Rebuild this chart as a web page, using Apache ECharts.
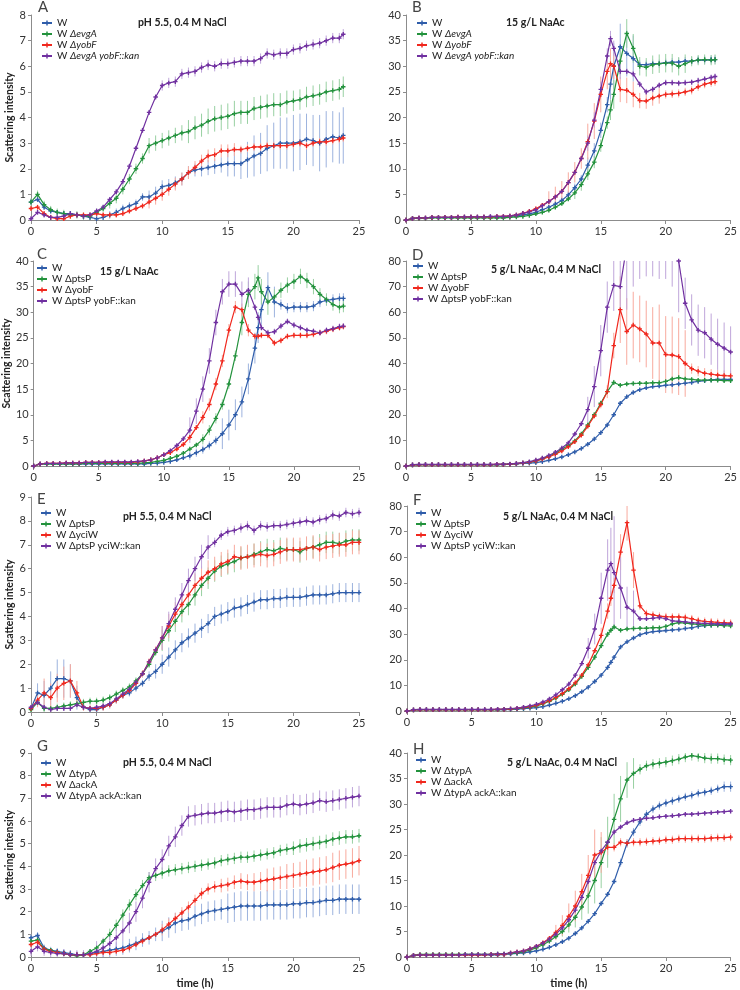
<!DOCTYPE html>
<html><head><meta charset="utf-8">
<script src="https://cdn.jsdelivr.net/npm/echarts@6/dist/echarts.min.js"></script>
<style>html,body{margin:0;padding:0;background:#fff}#c{width:740px;height:990px}</style>
</head><body><div id="c"></div>
<script>
// ---------- time axes (h) ----------
const T24 = [0,0.5,1,1.5,2,2.5,3,3.5,4,4.5,5,5.5,6,6.5,7,7.5,8,8.5,9,9.5,10,10.5,11,11.5,12,12.5,13,13.5,14,14.5,15,15.5,16,16.5,17,17.5,18,18.5,19,19.5,20,20.5,21,21.5,22,22.5,23,23.5,23.8];
const TB = [0,0.5,1,1.5,2,2.5,3,3.5,4,4.5,5,5.5,6,6.5,7,7.5,8,8.5,9,9.5,10,10.5,11,11.5,12,12.5,13,13.5,14,14.5,15,15.5,15.75,16,16.5,17,17.5,18,18.5,19,19.5,20,20.5,21,21.5,22,22.5,23,23.5,23.8];
const TC = [0,0.5,1,1.5,2,2.5,3,3.5,4,4.5,5,5.5,6,6.5,7,7.5,8,8.5,9,9.5,10,10.5,11,11.5,12,12.5,13,13.5,14,14.5,15,15.5,16,16.5,17,17.25,17.5,18,18.5,19,19.5,20,20.5,21,21.5,22,22.5,23,23.5,23.8];
const T25 = [0,0.5,1,1.5,2,2.5,3,3.5,4,4.5,5,5.5,6,6.5,7,7.5,8,8.5,9,9.5,10,10.5,11,11.5,12,12.5,13,13.5,14,14.5,15,15.5,16,16.5,17,17.5,18,18.5,19,19.5,20,20.5,21,21.5,22,22.5,23,23.5,24,24.5,25];
const TF = [0,0.5,1,1.5,2,2.5,3,3.5,4,4.5,5,5.5,6,6.5,7,7.5,8,8.5,9,9.5,10,10.5,11,11.5,12,12.5,13,13.5,14,14.5,15,15.5,15.75,16,16.5,17,17.5,18,18.5,19,19.5,20,20.5,21,21.5,22,22.5,23,23.5,24,24.5,25];

// ---------- labels ----------
const TITLES = ['pH 5.5, 0.4 M NaCl','15 g/L NaAc','15 g/L NaAc','5 g/L NaAc, 0.4 M NaCl','pH 5.5, 0.4 M NaCl','5 g/L NaAc, 0.4 M NaCl','pH 5.5, 0.4 M NaCl','5 g/L NaAc, 0.4 M NaCl'];
const LETTERS = ['A','B','C','D','E','F','G','H'];
const NAMES_EVGA = ['W','W ΔevgA','W ΔyobF','W ΔevgA yobF::kan'];
const NAMES_PTSY = ['W','W ΔptsP','W ΔyobF','W ΔptsP yobF::kan'];
const NAMES_YCIW = ['W','W ΔptsP','W ΔyciW','W ΔptsP yciW::kan'];
const NAMES_TYPA = ['W','W ΔtypA','W ΔackA','W ΔtypA ackA::kan'];
const X_TICKS = [0,5,10,15,20,25];

// ---------- Panel A ----------
const A_W = [0.7,0.8,0.5,0.35,0.3,0.25,0.25,0.2,0.15,0.1,0.05,0.1,0.2,0.3,0.45,0.55,0.65,0.9,0.9,1.05,1.3,1.35,1.45,1.6,1.85,1.95,2.0,2.05,2.1,2.15,2.2,2.2,2.2,2.35,2.5,2.6,2.8,2.9,3.0,3.0,3.0,3.05,3.15,3.1,3.0,3.15,3.25,3.2,3.3];
const A_W_err = [0.1,0.1,0.1,0.1,0.1,0.1,0.1,0.1,0.1,0.1,0.15,0.15,0.15,0.15,0.15,0.15,0.15,0.15,0.25,0.25,0.25,0.25,0.25,0.25,0.25,0.25,0.3,0.3,0.3,0.3,0.5,0.5,0.6,0.7,0.8,0.8,0.9,0.9,1.0,1.0,1.1,1.1,1.0,1.0,1.1,1.1,1.0,1.0,1.1];
const A_G = [0.7,1.0,0.6,0.4,0.3,0.25,0.2,0.2,0.15,0.15,0.3,0.45,0.65,0.85,1.2,1.6,2.0,2.4,2.9,3.0,3.1,3.2,3.3,3.4,3.45,3.6,3.7,3.85,3.95,4.0,4.05,4.15,4.2,4.2,4.35,4.4,4.45,4.5,4.5,4.6,4.65,4.7,4.8,4.85,4.9,5.0,5.05,5.1,5.2];
const A_G_err = [0.15,0.15,0.15,0.15,0.15,0.15,0.15,0.15,0.15,0.15,0.15,0.15,0.2,0.2,0.2,0.2,0.2,0.2,0.3,0.3,0.3,0.3,0.3,0.3,0.45,0.45,0.45,0.5,0.5,0.5,0.5,0.5,0.45,0.45,0.45,0.45,0.45,0.45,0.45,0.45,0.4,0.4,0.4,0.4,0.4,0.4,0.4,0.4,0.4];
const A_R = [0.45,0.5,0.25,0.1,0.05,0.05,0.15,0.2,0.2,0.2,0.25,0.2,0.2,0.2,0.25,0.35,0.45,0.55,0.7,0.85,1.0,1.2,1.4,1.6,1.85,2.05,2.3,2.5,2.55,2.7,2.7,2.75,2.75,2.8,2.85,2.85,2.9,2.9,2.9,2.9,2.95,3.0,2.9,3.0,3.05,3.05,3.1,3.15,3.2];
const A_R_err = [0.1,0.1,0.1,0.1,0.1,0.1,0.1,0.1,0.1,0.1,0.1,0.1,0.1,0.1,0.1,0.1,0.1,0.1,0.25,0.25,0.25,0.25,0.25,0.25,0.25,0.25,0.25,0.25,0.25,0.25,0.25,0.25,0.15,0.15,0.15,0.15,0.15,0.15,0.15,0.15,0.15,0.15,0.15,0.15,0.15,0.15,0.15,0.15,0.15];
const A_P = [0.05,0.3,0.2,0.1,0.1,0.15,0.25,0.2,0.15,0.2,0.35,0.5,0.8,1.1,1.5,2.1,2.8,3.5,4.2,4.8,5.25,5.35,5.4,5.7,5.75,5.8,5.95,6.05,6.0,6.1,6.1,6.15,6.2,6.2,6.2,6.3,6.5,6.45,6.5,6.5,6.65,6.7,6.8,6.85,6.9,7.0,7.1,7.1,7.25];
const A_P_err = [0.1,0.1,0.1,0.1,0.1,0.1,0.1,0.1,0.1,0.1,0.1,0.1,0.1,0.1,0.1,0.1,0.1,0.1,0.1,0.1,0.2,0.2,0.2,0.2,0.2,0.2,0.2,0.2,0.2,0.2,0.2,0.2,0.2,0.2,0.2,0.2,0.2,0.2,0.2,0.2,0.2,0.2,0.2,0.2,0.2,0.2,0.2,0.2,0.2];

// ---------- Panel B ----------
const B_W = [0,0.3,0.4,0.4,0.5,0.5,0.5,0.5,0.5,0.6,0.6,0.6,0.6,0.6,0.6,0.6,0.7,0.8,1.0,1.2,1.5,2.0,2.5,3.1,3.8,4.9,6.3,8.0,10.7,13.5,17.5,22.5,26.5,30.0,33.8,32.5,31.5,30.3,30.3,30.5,30.5,30.7,30.8,30.8,31.0,31.0,31.2,31.2,31.3,31.3];
const B_W_err = [0.3,0.3,0.3,0.3,0.3,0.3,0.3,0.3,0.3,0.3,0.3,0.3,0.3,0.3,0.3,0.3,0.3,0.3,0.3,0.3,0.3,0.3,0.3,0.3,0.8,0.8,0.8,0.8,1.5,1.5,1.5,1.5,3,4.5,4.5,4.5,4.5,0.8,0.8,0.8,0.8,0.8,0.8,0.8,0.8,0.8,0.8,0.8,0.8,0.8];
const B_G = [0,0.3,0.3,0.3,0.4,0.4,0.4,0.4,0.4,0.4,0.4,0.4,0.4,0.4,0.4,0.4,0.5,0.6,0.7,0.9,1.2,1.5,1.9,2.5,3.2,4.1,5.3,6.9,9.0,11.3,14.5,19.0,21.5,24.5,31.0,36.4,33.5,30.0,29.8,30.3,30.5,30.6,30.6,30.0,30.5,31.0,31.2,31.3,31.2,31.3];
const B_G_err = [0.3,0.3,0.3,0.3,0.3,0.3,0.3,0.3,0.3,0.3,0.3,0.3,0.3,0.3,0.3,0.3,0.3,0.3,0.3,0.3,0.3,0.3,0.3,0.3,0.3,0.3,1.2,1.2,1.2,1.2,1.2,1.2,2,2.8,2.8,2.8,2.8,1.8,1.8,1.8,1.8,1.8,1.8,1.8,1.8,1.0,1.0,1.0,1.0,1.0];
const B_R = [0,0.3,0.4,0.4,0.5,0.5,0.5,0.5,0.6,0.6,0.6,0.6,0.6,0.6,0.7,0.7,0.8,1.0,1.3,1.7,2.2,2.9,3.6,4.5,5.6,7.3,9.3,12.0,15.3,19.3,24.5,29.0,30.5,30.0,25.5,25.3,24.5,23.3,23.2,23.8,24.2,24.5,24.6,24.7,25.0,25.3,26.0,26.5,26.8,27.0];
const B_R_err = [0.4,0.4,0.4,0.4,0.4,0.4,0.4,0.4,0.4,0.4,0.4,0.4,0.4,0.4,0.4,0.4,0.4,0.4,0.4,0.4,0.4,0.4,2.0,2.0,2.0,2.0,2.0,2.0,3.5,3.5,3.5,3.5,3,2.5,2.5,2.5,2.5,1.5,1.5,1.5,1.5,0.8,0.8,0.8,0.8,0.8,0.8,0.8,0.8,0.8];
const B_P = [0,0.3,0.4,0.4,0.5,0.5,0.5,0.5,0.6,0.6,0.6,0.6,0.6,0.7,0.7,0.7,0.8,1.0,1.3,1.6,2.0,2.8,3.6,4.5,5.6,7.3,9.3,12.0,15.0,19.5,25.5,32.0,35.4,33.5,29.0,29.0,28.5,26.5,25.0,25.5,26.3,26.8,26.8,26.7,26.8,26.9,27.2,27.5,27.8,28.0];
const B_P_err = [0.3,0.3,0.3,0.3,0.3,0.3,0.3,0.3,0.3,0.3,0.3,0.3,0.3,0.3,0.3,0.3,0.3,0.3,0.3,0.3,0.3,0.3,0.3,0.3,0.3,0.3,0.3,0.3,1.5,1.5,1.5,1.5,1.5,1.5,1.5,0.6,0.6,0.6,0.6,0.6,0.6,0.6,0.6,0.6,0.6,0.6,0.6,0.6,0.6,0.6];

// ---------- Panel C ----------
const C_W = [0,0.4,0.4,0.4,0.4,0.4,0.4,0.4,0.4,0.4,0.4,0.4,0.4,0.4,0.4,0.4,0.4,0.4,0.5,0.55,0.7,0.9,1.2,1.6,2.0,2.6,3.2,4.0,5.0,6.3,8.0,10.0,12.5,17.0,23.0,27.0,30.5,34.8,32.0,31.5,30.8,31.0,31.0,31.0,31.2,32.0,32.3,32.5,32.7,32.7];
const C_W_err = [0.3,0.3,0.3,0.3,0.3,0.3,0.3,0.3,0.3,0.3,0.3,0.3,0.3,0.3,0.3,0.3,0.3,0.3,0.3,0.3,0.3,0.3,0.3,0.3,0.8,0.8,0.8,0.8,0.8,3.0,3.0,3.0,3.0,3.0,3.0,3.0,3.0,3.0,3.0,1.0,1.0,1.0,1.0,1.0,1.0,1.0,1.0,1.0,1.0,1.0];
const C_G = [0,0.4,0.4,0.4,0.4,0.4,0.4,0.4,0.5,0.5,0.5,0.5,0.5,0.5,0.5,0.5,0.5,0.6,0.7,0.9,1.1,1.5,1.9,2.5,3.3,4.1,5.2,7.0,9.3,12.0,16.0,21.5,28.0,33.5,35.0,36.7,34.0,32.0,33.0,34.3,35.3,36.0,37.0,36.2,35.0,33.5,32.5,31.5,31.0,31.2];
const C_G_err = [0.3,0.3,0.3,0.3,0.3,0.3,0.3,0.3,0.3,0.3,0.3,0.3,0.3,0.3,0.3,0.3,0.3,0.3,0.3,0.3,0.3,0.3,0.3,0.3,0.3,0.3,1.0,1.0,1.0,1.0,1.0,1.0,2.5,2.5,2.5,2.5,2.5,2.5,1.5,1.5,1.5,1.5,1.5,1.5,1.5,1.2,1.2,1.2,1.2,1.2];
const C_R = [0,0.4,0.5,0.5,0.5,0.6,0.6,0.6,0.7,0.7,0.7,0.7,0.7,0.7,0.7,0.7,0.8,1.0,1.2,1.6,2.2,2.6,3.3,4.2,5.6,7.5,9.5,12.0,16.0,20.5,26.5,31.0,30.5,26.5,25.3,25.3,25.5,25.5,24.0,24.5,25.3,25.5,25.5,25.5,25.7,26.0,26.3,26.7,27.0,27.2];
const C_R_err = [0.4,0.4,0.4,0.4,0.4,0.4,0.4,0.4,0.4,0.4,0.4,0.4,0.4,0.4,0.4,0.4,0.4,0.4,0.4,0.4,0.4,0.4,0.4,0.4,0.4,0.4,1.2,1.2,1.2,1.2,1.2,1.2,1.2,1.2,0.6,0.6,0.6,0.6,0.6,0.6,0.6,0.6,0.6,0.6,0.6,0.6,0.6,0.6,0.6,0.6];
const C_P = [0,0.4,0.5,0.5,0.5,0.6,0.6,0.6,0.7,0.7,0.7,0.8,0.8,0.8,0.8,0.8,0.9,1.0,1.2,1.6,2.2,3.0,4.0,5.3,7.0,10.7,15.0,20.5,28.0,34.0,35.5,35.5,33.5,34.3,31.0,29.0,27.0,26.0,26.2,27.3,28.2,27.5,27.0,26.5,26.3,26.0,26.5,26.8,27.2,27.3];
const C_P_err = [0.3,0.3,0.3,0.3,0.3,0.3,0.3,0.3,0.3,0.3,0.3,0.3,0.3,0.3,0.3,0.3,0.3,0.3,0.3,0.3,0.3,0.3,0.3,0.3,2.5,2.5,2.5,2.5,2.5,2.5,2.5,2.5,2.5,2.5,0.6,0.6,0.6,0.6,0.6,0.6,0.6,0.6,0.6,0.6,0.6,0.6,0.6,0.6,0.6,0.6];

// ---------- Panel D ----------
const D_W = [0,0.4,0.5,0.5,0.5,0.5,0.5,0.5,0.5,0.5,0.5,0.5,0.5,0.5,0.5,0.6,0.7,0.8,1.0,1.1,1.3,1.7,2.2,2.8,3.5,4.4,5.5,6.8,8.5,10.5,13.0,16.0,20.0,24.5,27.0,28.7,29.8,30.5,31.0,31.2,31.5,31.7,32.0,32.3,32.6,33.0,33.3,33.6,33.8,33.8,33.8];
const D_W_err = [0.3,0.3,0.3,0.3,0.3,0.3,0.3,0.3,0.3,0.3,0.3,0.3,0.3,0.3,0.3,0.3,0.3,0.3,0.3,0.3,0.3,0.3,0.3,0.3,0.3,0.3,0.3,0.3,0.3,0.3,0.6,0.6,0.6,0.6,0.6,0.6,0.6,0.6,0.6,0.6,0.6,0.6,0.6,0.6,0.6,0.6,0.6,0.6,0.6,0.6,0.6];
const D_G = [0,0.4,0.5,0.5,0.5,0.5,0.5,0.5,0.5,0.5,0.5,0.5,0.5,0.5,0.5,0.6,0.7,0.9,1.2,1.5,2.0,2.8,3.8,5.0,6.5,8.0,9.8,12.5,16.0,20.0,24.5,29.0,32.6,31.5,32.0,32.2,32.3,32.3,32.5,32.5,33.0,34.0,34.5,34.0,33.8,33.5,33.5,33.5,33.5,33.3,33.3];
const D_G_err = [0.3,0.3,0.3,0.3,0.3,0.3,0.3,0.3,0.3,0.3,0.3,0.3,0.3,0.3,0.3,0.3,0.3,0.3,0.3,0.3,0.3,0.3,0.3,0.3,0.3,0.3,0.3,0.3,1.0,1.0,1.0,1.0,1.0,0.5,0.5,0.5,0.5,0.5,0.5,0.5,0.5,0.5,0.5,0.5,0.5,0.5,0.5,0.5,0.5,0.5,0.5];
const D_R = [0,0.4,0.5,0.5,0.5,0.5,0.5,0.5,0.5,0.5,0.5,0.5,0.5,0.5,0.6,0.6,0.7,0.9,1.2,1.5,2.0,2.7,3.5,4.6,5.9,7.5,9.5,12.0,15.5,19.5,24.0,29.0,47.0,61.0,52.5,55.0,53.5,51.5,48.0,48.0,43.5,43.3,42.7,40.0,38.0,37.0,36.2,35.8,35.5,35.3,35.2];
const D_R_err = [0.5,0.5,0.5,0.5,0.5,0.5,0.5,0.5,0.5,0.5,0.5,0.5,0.5,0.5,0.5,0.5,0.5,0.5,0.5,0.5,0.5,0.5,0.5,0.5,0.5,0.5,0.5,0.5,0.5,0.5,1.5,2.5,5,13,13,13,13,13,14,15,15,15,15,13,2,2,2,2,2,2,2];
const D_P = [0,0.5,0.6,0.6,0.6,0.6,0.6,0.6,0.6,0.6,0.6,0.6,0.6,0.6,0.7,0.7,0.8,1.0,1.3,1.7,2.3,3.1,4.1,5.4,7.0,9.0,12.5,16.5,22.0,31.0,45.0,62.0,70.5,70.0,86,95,100,102,102,100,98,92,80,63.5,57.0,53.0,52.0,49.5,47.5,46.0,44.5];
const D_P_err = [0.5,0.5,0.5,0.5,0.5,0.5,0.5,0.5,0.5,0.5,0.5,0.5,0.5,0.5,0.5,0.5,0.5,0.5,0.5,0.5,0.5,0.5,0.5,0.5,0.5,0.5,0.5,0.5,5,8,10,10,10,10,25,25,27,28,28,27,25,22,20,10,10,10,10,10,10,10,10];

// ---------- Panel E ----------
const E_W = [0.15,0.8,0.7,1.0,1.4,1.4,1.3,0.6,0.2,0.1,0.1,0.2,0.3,0.5,0.7,0.8,1.0,1.2,1.5,1.7,2.0,2.3,2.6,2.9,3.1,3.3,3.5,3.7,4.0,4.1,4.2,4.35,4.4,4.5,4.6,4.7,4.7,4.75,4.75,4.8,4.8,4.8,4.85,4.9,4.9,4.9,4.95,5.0,5.0,5.0,5.0];
const E_W_err = [0.1,0.4,0.6,0.7,0.8,0.8,0.7,0.5,0.15,0.15,0.15,0.15,0.15,0.15,0.15,0.15,0.15,0.15,0.2,0.3,0.4,0.4,0.4,0.4,0.4,0.4,0.4,0.4,0.4,0.4,0.4,0.4,0.4,0.4,0.4,0.4,0.4,0.4,0.4,0.4,0.4,0.4,0.4,0.4,0.4,0.4,0.4,0.4,0.4,0.4,0.4];
const E_G = [0.1,0.4,0.15,0.15,0.2,0.25,0.3,0.35,0.4,0.45,0.45,0.5,0.6,0.75,0.9,1.05,1.3,1.6,2.0,2.5,3.0,3.4,3.8,4.2,4.5,4.9,5.3,5.6,5.9,6.1,6.2,6.3,6.45,6.5,6.6,6.7,6.8,6.75,6.85,6.8,6.8,6.7,6.85,6.9,7.0,7.1,7.1,7.05,7.15,7.2,7.2];
const E_G_err = [0.15,0.15,0.15,0.15,0.15,0.15,0.15,0.15,0.15,0.15,0.15,0.15,0.15,0.15,0.15,0.15,0.15,0.15,0.15,0.15,0.45,0.45,0.45,0.45,0.45,0.45,0.45,0.45,0.45,0.45,0.45,0.45,0.45,0.45,0.45,0.45,0.45,0.45,0.45,0.45,0.45,0.45,0.45,0.45,0.45,0.45,0.45,0.45,0.45,0.45,0.45];
const E_R = [0.15,0.5,0.8,0.6,1.0,1.2,1.3,0.8,0.2,0.15,0.15,0.2,0.3,0.5,0.7,0.9,1.2,1.6,2.1,2.6,3.1,3.6,4.1,4.5,4.9,5.3,5.6,5.85,6.0,6.2,6.3,6.5,6.45,6.5,6.55,6.6,6.55,6.6,6.7,6.8,6.8,6.8,6.85,6.9,6.8,6.9,6.95,7.0,7.0,7.1,7.1];
const E_R_err = [0.1,0.3,0.6,0.6,0.6,0.7,0.7,0.5,0.15,0.15,0.15,0.15,0.15,0.15,0.15,0.15,0.15,0.15,0.15,0.15,0.5,0.5,0.5,0.5,0.5,0.5,0.5,0.5,0.5,0.5,0.5,0.5,0.5,0.5,0.5,0.5,0.5,0.5,0.5,0.5,0.5,0.5,0.5,0.5,0.5,0.5,0.5,0.5,0.5,0.5,0.5];
const E_P = [0.2,0.4,0.2,0.1,0.15,0.15,0.15,0.3,0.2,0.15,0.2,0.25,0.35,0.55,0.75,0.95,1.25,1.6,2.1,2.6,3.1,3.7,4.3,4.9,5.5,6.0,6.5,6.9,7.1,7.4,7.55,7.6,7.7,7.8,7.6,7.8,7.75,7.8,7.8,7.85,7.9,7.95,8.0,7.95,8.05,8.1,8.25,8.2,8.35,8.3,8.35];
const E_P_err = [0.1,0.1,0.1,0.1,0.1,0.1,0.1,0.1,0.1,0.1,0.1,0.1,0.1,0.1,0.1,0.1,0.1,0.1,0.1,0.1,0.5,0.5,0.5,0.5,0.5,0.5,0.5,0.5,0.2,0.2,0.2,0.2,0.2,0.2,0.2,0.2,0.2,0.2,0.2,0.2,0.2,0.2,0.2,0.2,0.2,0.2,0.2,0.2,0.2,0.2,0.2];

// ---------- Panel F ----------
const F_W = [0,0.4,0.5,0.5,0.5,0.5,0.5,0.5,0.5,0.5,0.5,0.5,0.5,0.5,0.5,0.5,0.6,0.7,0.9,1.1,1.3,1.7,2.3,3.0,3.8,4.8,6.0,7.5,9.3,11.5,14.0,17.0,19.0,21.0,25.0,27.0,28.5,29.8,30.5,31.0,31.2,31.4,31.6,31.8,32.2,32.5,33.0,33.3,33.5,33.7,33.8,33.9];
const F_W_err = [0.3,0.3,0.3,0.3,0.3,0.3,0.3,0.3,0.3,0.3,0.3,0.3,0.3,0.3,0.3,0.3,0.3,0.3,0.3,0.3,0.3,0.3,0.3,0.3,0.3,0.3,0.3,0.3,0.3,0.3,0.6,0.6,0.6,0.6,0.6,0.6,0.6,0.6,0.6,0.6,0.6,0.6,0.6,0.6,0.6,0.6,0.6,0.6,0.6,0.6,0.6,0.6];
const F_G = [0,0.4,0.5,0.5,0.5,0.5,0.5,0.5,0.5,0.5,0.5,0.5,0.5,0.5,0.5,0.6,0.7,0.9,1.2,1.5,2.0,2.8,3.8,5.0,6.5,8.3,10.5,13.5,17.0,21.0,25.5,30.0,31.5,32.8,31.5,32.0,32.2,32.3,32.3,32.5,32.5,33.0,34.0,34.5,34.3,34.0,33.8,33.5,33.5,33.5,33.3,33.2];
const F_G_err = [0.3,0.3,0.3,0.3,0.3,0.3,0.3,0.3,0.3,0.3,0.3,0.3,0.3,0.3,0.3,0.3,0.3,0.3,0.3,0.3,0.3,0.3,0.3,0.3,0.3,0.3,0.3,0.3,1.0,1.0,1.0,1.0,1.0,1.0,0.6,0.6,0.6,0.6,0.6,0.6,0.6,0.6,0.6,0.6,0.6,0.6,0.6,0.6,0.6,0.6,0.6,0.6];
const F_R = [0,0.4,0.5,0.5,0.5,0.5,0.5,0.5,0.5,0.5,0.5,0.5,0.5,0.5,0.6,0.6,0.8,1.0,1.3,1.7,2.2,3.0,4.0,5.3,6.8,8.7,11.0,14.0,18.0,23.5,29.5,39.0,44.0,49.0,62.0,73.5,55.0,41.0,38.0,37.5,37.0,36.8,36.7,36.7,36.5,36.0,35.3,35.0,34.8,34.6,34.5,34.3];
const F_R_err = [0.5,0.5,0.5,0.5,0.5,0.5,0.5,0.5,0.5,0.5,0.5,0.5,0.5,0.5,0.5,0.5,0.5,0.5,0.5,0.5,0.5,0.5,0.5,0.5,0.5,0.5,0.5,0.5,0.5,0.5,3,3,3,3,7,7,7,1.5,1.5,1.5,1.5,1.5,1.5,1.5,1.5,1.5,1.5,1.5,1.5,1.5,1.5,1.5];
const F_P = [0,0.5,0.6,0.6,0.6,0.6,0.6,0.6,0.6,0.6,0.6,0.6,0.6,0.6,0.7,0.7,0.9,1.1,1.5,2.0,2.6,3.5,4.7,6.3,8.3,10.5,14.0,18.5,24.5,32.0,44.0,55.0,57.5,54.0,48.0,40.5,39.0,36.0,36.0,36.2,36.5,36.0,35.2,35.0,34.8,34.5,34.3,34.2,34.1,34.0,34.0,34.0];
const F_P_err = [0.5,0.5,0.5,0.5,0.5,0.5,0.5,0.5,0.5,0.5,0.5,0.5,0.5,0.5,0.5,0.5,0.5,0.5,0.5,0.5,0.5,0.5,0.5,0.5,0.5,0.5,0.5,0.5,4,6,10,12,14,22,12,8,8,0.8,0.8,0.8,0.8,0.8,0.8,0.8,0.8,0.8,0.8,0.8,0.8,0.8,0.8,0.8];

// ---------- Panel G ----------
const G_W = [0.85,0.95,0.4,0.3,0.25,0.2,0.15,0.1,0.1,0.15,0.2,0.25,0.3,0.35,0.4,0.5,0.6,0.75,0.85,1.0,1.15,1.3,1.5,1.6,1.65,1.8,1.9,2.0,2.05,2.1,2.15,2.2,2.25,2.25,2.25,2.25,2.3,2.3,2.3,2.3,2.35,2.35,2.4,2.4,2.45,2.5,2.5,2.55,2.55,2.55,2.55];
const G_W_err = [0.15,0.15,0.15,0.15,0.15,0.15,0.15,0.15,0.15,0.15,0.3,0.3,0.3,0.3,0.3,0.3,0.3,0.3,0.3,0.3,0.45,0.45,0.45,0.45,0.45,0.45,0.45,0.45,0.45,0.45,0.65,0.65,0.65,0.65,0.65,0.65,0.65,0.65,0.65,0.65,0.65,0.65,0.65,0.65,0.65,0.65,0.65,0.65,0.65,0.65,0.65];
const G_G = [0.7,0.75,0.35,0.3,0.2,0.15,0.1,0.05,0.1,0.25,0.4,0.7,1.0,1.4,1.85,2.3,2.75,3.15,3.5,3.6,3.7,3.8,3.85,3.9,3.95,4.0,4.05,4.1,4.15,4.25,4.3,4.35,4.4,4.4,4.45,4.5,4.55,4.6,4.7,4.75,4.8,4.9,4.95,5.0,5.05,5.1,5.2,5.25,5.3,5.3,5.35];
const G_G_err = [0.1,0.1,0.1,0.1,0.1,0.1,0.1,0.1,0.1,0.1,0.1,0.1,0.25,0.25,0.25,0.25,0.25,0.25,0.25,0.25,0.25,0.25,0.25,0.25,0.25,0.25,0.25,0.25,0.25,0.25,0.25,0.25,0.25,0.25,0.25,0.25,0.25,0.25,0.25,0.25,0.3,0.3,0.3,0.3,0.3,0.3,0.3,0.3,0.3,0.3,0.3];
const G_R = [0.55,0.65,0.35,0.25,0.2,0.15,0.1,0.1,0.1,0.1,0.15,0.2,0.2,0.25,0.3,0.4,0.55,0.7,0.85,1.0,1.2,1.45,1.7,1.95,2.2,2.5,2.8,3.0,3.1,3.15,3.2,3.3,3.35,3.3,3.3,3.35,3.4,3.45,3.5,3.55,3.6,3.65,3.7,3.75,3.8,3.85,3.95,4.05,4.1,4.15,4.25];
const G_R_err = [0.1,0.1,0.1,0.1,0.1,0.1,0.1,0.1,0.1,0.1,0.1,0.1,0.1,0.1,0.1,0.1,0.1,0.1,0.1,0.1,0.25,0.25,0.25,0.25,0.25,0.25,0.25,0.25,0.25,0.3,0.3,0.3,0.35,0.35,0.4,0.4,0.5,0.5,0.5,0.55,0.55,0.55,0.6,0.6,0.6,0.6,0.65,0.65,0.65,0.65,0.65];
const G_P = [0.25,0.45,0.25,0.2,0.15,0.15,0.1,0.1,0.1,0.15,0.25,0.4,0.6,0.85,1.15,1.5,2.0,2.6,3.3,3.9,4.3,4.9,5.3,5.8,6.2,6.25,6.3,6.35,6.35,6.4,6.45,6.4,6.45,6.5,6.5,6.55,6.6,6.6,6.6,6.7,6.75,6.7,6.75,6.8,6.9,6.85,6.9,6.95,7.0,7.05,7.1];
const G_P_err = [0.2,0.2,0.2,0.2,0.2,0.2,0.2,0.2,0.2,0.2,0.45,0.45,0.45,0.45,0.45,0.45,0.45,0.45,0.45,0.45,0.45,0.45,0.45,0.45,0.45,0.45,0.45,0.45,0.45,0.45,0.45,0.45,0.45,0.45,0.45,0.45,0.45,0.45,0.45,0.45,0.45,0.45,0.45,0.45,0.45,0.45,0.45,0.45,0.45,0.45,0.45];

// ---------- Panel H ----------
const H_W = [0,0.3,0.4,0.4,0.4,0.4,0.4,0.4,0.4,0.4,0.4,0.4,0.4,0.4,0.4,0.5,0.6,0.7,0.8,1.0,1.2,1.5,1.9,2.4,3.0,3.7,4.6,5.7,7.0,8.5,10.5,12.3,14.8,18.5,22.3,24.5,26.5,28.0,29.0,29.7,30.2,30.6,31.0,31.4,31.7,32.1,32.3,32.6,33.0,33.4,33.4];
const H_W_err = [0.3,0.3,0.3,0.3,0.3,0.3,0.3,0.3,0.3,0.3,0.3,0.3,0.3,0.3,0.3,0.3,0.3,0.3,0.3,0.3,0.3,0.3,0.3,0.3,0.3,0.3,0.3,0.3,0.3,0.3,0.3,0.3,0.3,0.8,0.8,0.8,0.8,0.8,0.8,0.8,0.8,0.8,0.8,0.8,0.8,0.8,0.8,0.8,0.8,1.0,1.0];
const H_G = [0,0.3,0.5,0.5,0.5,0.5,0.5,0.5,0.5,0.5,0.5,0.5,0.5,0.5,0.6,0.6,0.7,0.8,1.0,1.4,1.8,2.4,3.1,4.0,5.0,6.3,7.8,9.8,12.0,15.0,18.5,22.5,27.0,31.0,34.7,36.0,36.8,37.5,37.8,38.0,38.2,38.5,38.8,39.2,39.5,39.3,39.0,38.9,38.9,38.7,38.6];
const H_G_err = [0.3,0.3,0.3,0.3,0.3,0.3,0.3,0.3,0.3,0.3,0.3,0.3,0.3,0.3,0.3,0.3,0.3,0.3,0.3,0.3,0.3,0.3,0.3,0.3,1.0,1.5,2.0,2.5,3.5,4.5,5.0,5.0,5.0,4.5,3.5,3.0,1.0,1.0,1.0,1.0,1.0,1.0,1.0,1.0,1.0,1.0,1.0,1.0,1.0,1.0,1.0];
const H_R = [0,0.3,0.4,0.4,0.4,0.4,0.4,0.4,0.4,0.4,0.4,0.4,0.4,0.5,0.5,0.5,0.8,1.0,1.2,1.6,2.1,2.8,3.7,4.8,6.2,8.0,10.0,12.8,16.0,20.0,20.5,21.5,21.5,22.5,22.3,22.5,22.5,22.6,22.7,22.8,23.0,23.0,23.2,23.2,23.2,23.2,23.2,23.3,23.4,23.4,23.5];
const H_R_err = [0.3,0.3,0.3,0.3,0.3,0.3,0.3,0.3,0.3,0.3,0.3,0.3,0.3,0.3,0.3,0.3,0.3,0.3,0.3,0.3,0.3,0.3,0.3,1.5,2.0,2.5,3.0,3.5,4.0,5.0,4.0,1.5,0.8,0.8,0.8,0.8,0.8,0.8,0.8,0.8,0.8,0.8,0.8,0.8,0.8,0.8,0.8,0.8,0.8,0.8,0.8];
const H_P = [0,0.3,0.4,0.4,0.4,0.4,0.4,0.4,0.4,0.5,0.5,0.5,0.5,0.5,0.6,0.6,0.8,1.0,1.2,1.6,2.1,2.7,3.5,4.5,5.7,7.3,9.2,11.7,14.8,18.5,20.8,22.5,24.5,25.5,26.3,26.8,27.0,27.2,27.3,27.5,27.6,27.7,27.8,28.0,28.0,28.1,28.2,28.3,28.4,28.5,28.6];
const H_P_err = [0.4,0.4,0.4,0.4,0.4,0.4,0.4,0.4,0.4,0.4,0.4,0.4,0.4,0.4,0.4,0.4,0.4,0.4,0.4,0.4,0.4,0.4,0.4,0.4,0.4,0.4,0.4,0.4,0.4,0.4,0.4,0.4,0.4,0.4,0.4,0.4,0.4,0.4,0.4,0.4,0.4,0.4,0.4,0.4,0.4,0.4,0.4,0.4,0.4,0.4,0.4];

// ---------- assemble ----------
const PANELS = [
  {T:T24, yMax:8,  yInt:1,  names:NAMES_EVGA, italic:true,  vals:[A_W,A_G,A_R,A_P], errs:[A_W_err,A_G_err,A_R_err,A_P_err]},
  {T:TB,  yMax:40, yInt:5,  names:NAMES_EVGA, italic:true,  vals:[B_W,B_G,B_R,B_P], errs:[B_W_err,B_G_err,B_R_err,B_P_err]},
  {T:TC,  yMax:40, yInt:5,  names:NAMES_PTSY, italic:false, vals:[C_W,C_G,C_R,C_P], errs:[C_W_err,C_G_err,C_R_err,C_P_err]},
  {T:T25, yMax:80, yInt:10, names:NAMES_PTSY, italic:false, vals:[D_W,D_G,D_R,D_P], errs:[D_W_err,D_G_err,D_R_err,D_P_err]},
  {T:T25, yMax:9,  yInt:1,  names:NAMES_YCIW, italic:false, vals:[E_W,E_G,E_R,E_P], errs:[E_W_err,E_G_err,E_R_err,E_P_err]},
  {T:TF,  yMax:80, yInt:10, names:NAMES_YCIW, italic:false, vals:[F_W,F_G,F_R,F_P], errs:[F_W_err,F_G_err,F_R_err,F_P_err]},
  {T:T25, yMax:9,  yInt:1,  names:NAMES_TYPA, italic:false, vals:[G_W,G_G,G_R,G_P], errs:[G_W_err,G_G_err,G_R_err,G_P_err]},
  {T:T25, yMax:40, yInt:5,  names:NAMES_TYPA, italic:false, vals:[H_W,H_G,H_R,H_P], errs:[H_W_err,H_G_err,H_R_err,H_P_err]}
];

const FONT = 'Lato, "Noto Sans", sans-serif';
const COL  = ['#2F5DAA','#23923D','#F0281E','#7030A0'];
const ECOL = ['#9DB3DE','#98D0A2','#F8AA9E','#BFA6DA'];
const GRIDS = [
  {left:31, top:15, width:328, height:205}, {left:406, top:15, width:328, height:205},
  {left:31, top:261, width:328, height:205}, {left:406, top:261, width:328, height:205},
  {left:31, top:497, width:328, height:215}, {left:407, top:506, width:329, height:205},
  {left:31, top:753, width:328, height:205}, {left:407, top:753, width:329, height:205}
];
const LEG_POS = [[41,18],[416,18],[36,263],[412,261],[40,508],[415,508],[40,758],[415,755]];
const TITLE_POS = [[138,17],[506,17],[100,266],[491,264],[123,511],[503,511],[123,757],[507,757]];
const LETTER_POS = [[38,0],[412,0],[37,247],[412,248],[37,492],[413,493],[37,739],[413,742]];
const PLUS = 'path://M3.5,0h3v3.5h3.5v3h-3.5v3.5h-3v-3.5h-3.5v-3h3.5z';

function errRender(color){
  return function(params, api){
    const cs = params.coordSys;
    const x = api.value(0), y = api.value(1), e = api.value(2);
    const a = api.coord([x, y - e]), b = api.coord([x, y + e]);
    const lo = cs.y, hi = cs.y + cs.height;
    const y1 = Math.min(Math.max(a[1], lo), hi), y2 = Math.min(Math.max(b[1], lo), hi);
    if (y1 === y2) return null;
    return {type:'line', shape:{x1:a[0], y1:y1, x2:b[0], y2:y2}, style:{stroke:color, lineWidth:1}};
  };
}

const grid = [], xAxis = [], yAxis = [], errSeries = [], lineSeries = [], legend = [], graphic = [];
PANELS.forEach((p, k) => {
  const id = LETTERS[k];
  grid.push(GRIDS[k]);
  xAxis.push({
    gridIndex:k, type:'value', min:X_TICKS[0], max:X_TICKS[X_TICKS.length-1], interval:5,
    name: k >= 6 ? 'time (h)' : '', nameLocation:'middle', nameGap:21,
    nameTextStyle:{fontSize:11, fontWeight:'bold', color:'#222', fontFamily:FONT},
    axisLine:{show:true, onZero:false, lineStyle:{color:'#8c8c8c', width:1}},
    axisTick:{show:true, length:4, lineStyle:{color:'#8c8c8c'}},
    axisLabel:{fontSize:11, color:'#333', margin:6, fontFamily:FONT},
    splitLine:{show:false}
  });
  yAxis.push({
    gridIndex:k, type:'value', min:0, max:p.yMax, interval:p.yInt,
    name: k % 2 === 0 ? 'Scattering intensity' : '', nameLocation:'middle', nameGap:16, nameRotate:90,
    nameTextStyle:{fontSize:10.5, fontWeight:'bold', color:'#222', fontFamily:FONT},
    axisLine:{show:true, lineStyle:{color:'#8c8c8c', width:1}},
    axisTick:{show:true, length:3, lineStyle:{color:'#8c8c8c'}},
    axisLabel:{fontSize:11, color:'#333', margin:5, fontFamily:FONT},
    splitLine:{show:false}
  });
  p.vals.forEach((v, j) => {
    errSeries.push({
      type:'custom', xAxisIndex:k, yAxisIndex:k, silent:true, z:1, animation:false,
      data:p.T.map((t, i) => [t, v[i], p.errs[j][i]]),
      encode:{x:0, y:1}, renderItem:errRender(ECOL[j])
    });
    lineSeries.push({
      type:'line', name:id + ':' + p.names[j], xAxisIndex:k, yAxisIndex:k,
      data:p.T.map((t, i) => [t, v[i]]), symbol:PLUS, symbolSize:4.5, showSymbol:true,
      lineStyle:{width:1.2, color:COL[j]}, itemStyle:{color:COL[j]}, z:3, animation:false, clip:true
    });
  });
  legend.push({
    left:LEG_POS[k][0], top:LEG_POS[k][1], orient:'vertical', padding:0,
    itemWidth:10, itemHeight:6, itemGap:1, selectedMode:false,
    data:p.names.map(n => id + ':' + n),
    formatter:(name) => {
      const s = name.slice(2);
      if (!p.italic || s === 'W') return s;
      return 'W {i|' + s.slice(2) + '}';
    },
    textStyle:{fontSize:10, lineHeight:10, color:'#222', fontFamily:FONT,
      rich:{i:{fontSize:10, lineHeight:10, fontStyle:'italic', color:'#222', fontFamily:FONT}}}
  });
  graphic.push({type:'text', left:TITLE_POS[k][0], top:TITLE_POS[k][1],
    style:{text:TITLES[k], fontSize:10.5, fontWeight:'bold', fill:'#222', fontFamily:FONT}});
  graphic.push({type:'text', left:LETTER_POS[k][0], top:LETTER_POS[k][1],
    style:{text:id, fontSize:15, fill:'#444', fontFamily:FONT}});
});

const chart = echarts.init(document.getElementById('c'), null, {renderer:'canvas'});
chart.setOption({
  animation:false, backgroundColor:'#fff',
  grid, xAxis, yAxis, legend, graphic,
  series: errSeries.concat(lineSeries)
});
</script></body></html>
